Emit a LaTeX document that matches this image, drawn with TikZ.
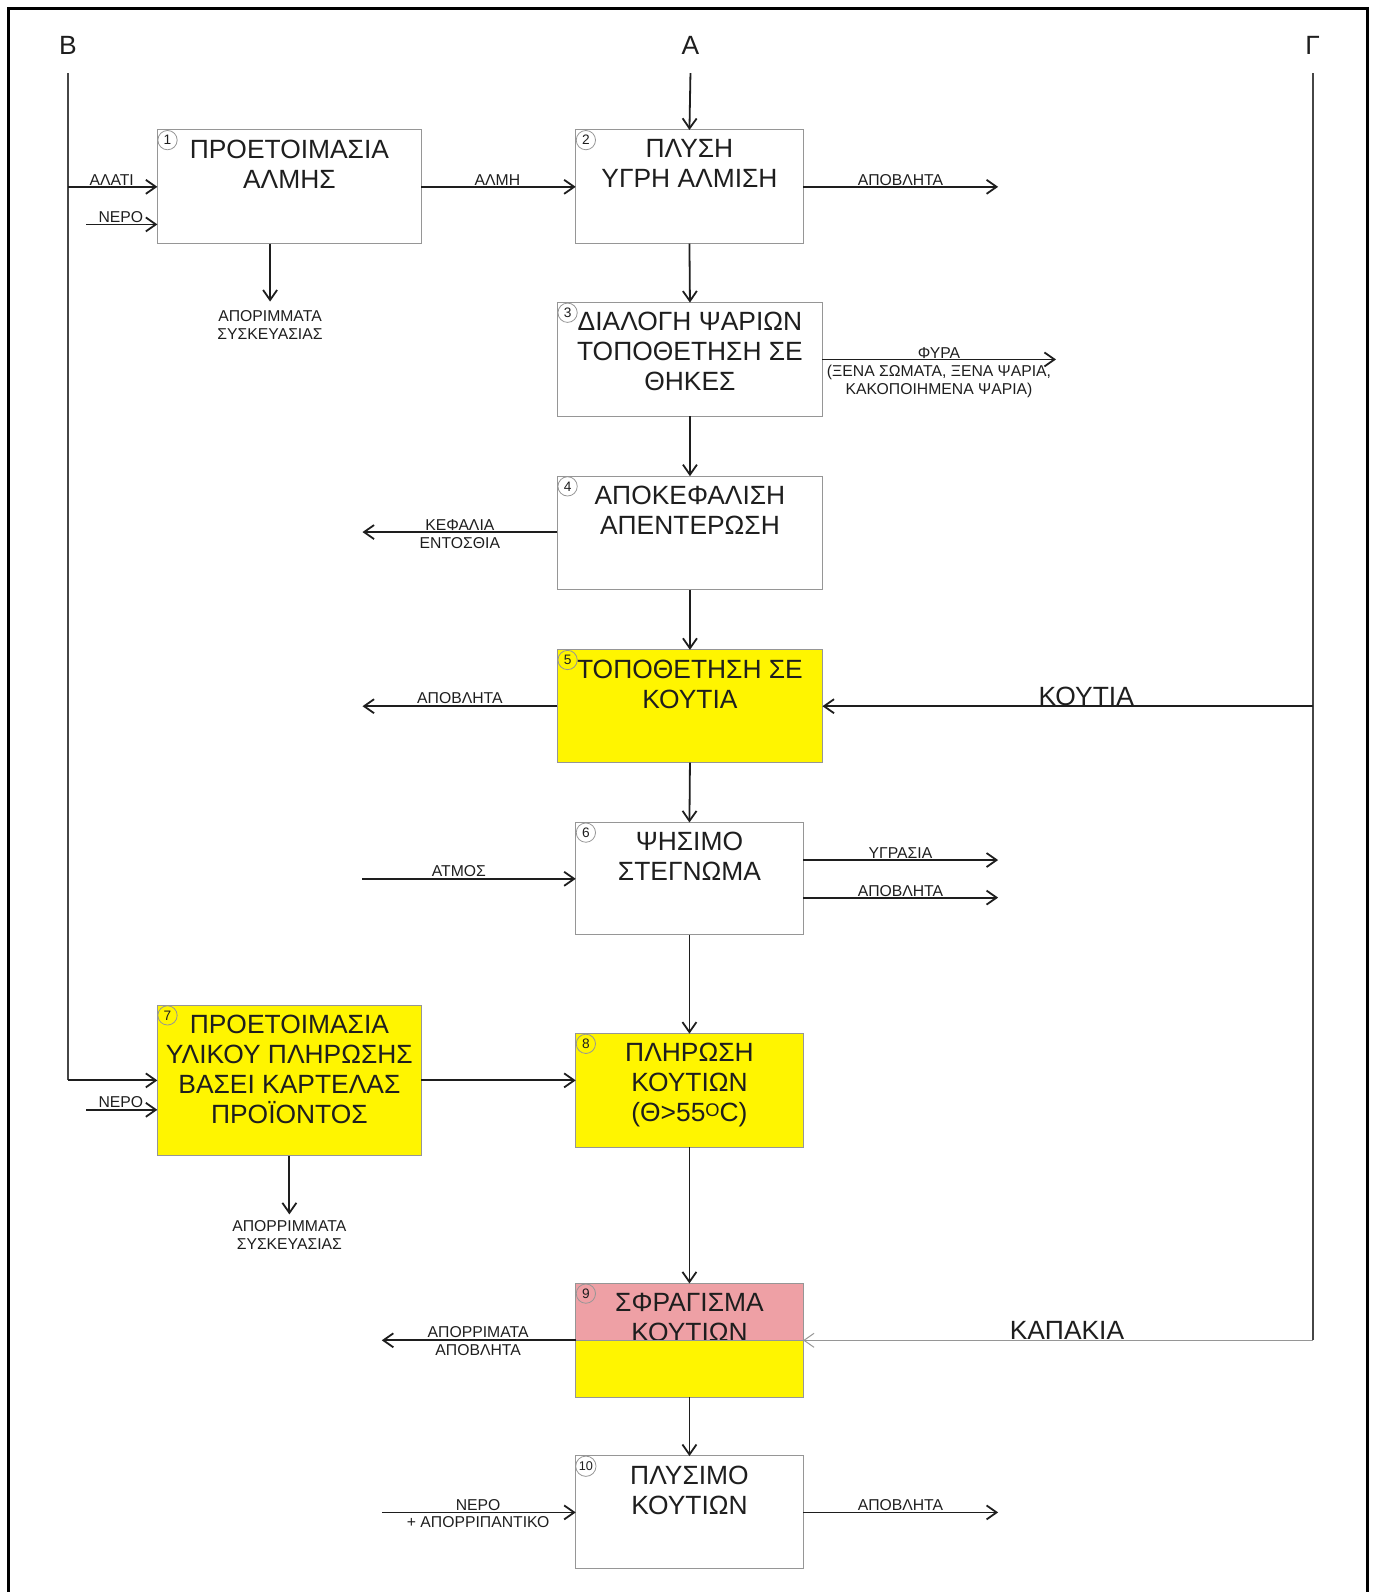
\documentclass[tikz,border=0pt]{standalone}
\usepackage{fontspec}
\setmainfont{Liberation Sans}
\usetikzlibrary{arrows.meta,calc}
\definecolor{boxgray}{RGB}{150,150,150}
\definecolor{ylw}{RGB}{255,245,0}
\definecolor{pnk}{RGB}{238,160,165}
\definecolor{ink}{RGB}{30,30,30}
\definecolor{feed}{RGB}{70,70,70}
\definecolor{lightln}{RGB}{150,150,150}
\begin{document}
\begin{tikzpicture}[x=1pt,y=-1pt,scale=1.0152,
  every node/.append style={transform shape},
  box/.style={draw=boxgray,line width=1pt,inner sep=0pt,outer sep=0pt},
  btxt/.style={font=\fontsize{26}{29.5}\selectfont,align=center,inner sep=0pt,anchor=north,text=ink},
  stxt/.style={font=\fontsize{15.5}{17.5}\selectfont,inner sep=0pt,text=ink,align=center},
  bigl/.style={font=\fontsize{26}{26}\selectfont,inner sep=0pt,text=ink},
  numc/.style={circle,draw=boxgray,line width=0.8pt,inner sep=0pt,minimum size=19pt,font=\fontsize{13.5}{13.5}\selectfont,text=ink},
  flow/.style={draw=ink,line width=1.8pt,-{Straight Barb[length=10pt,width=14pt,line width=1.8pt]}},
  feedln/.style={draw=feed,line width=1.4pt},
  lightflow/.style={draw=lightln,line width=1pt,-{Straight Barb[length=10pt,width=14pt,line width=1pt]}},
]
\useasboundingbox (0,0) rectangle (1355.4,1568.2);
% frame
\draw[line width=3pt,black] (8,1570) -- (8,8) -- (1347,8) -- (1347,1570);

% top letters
\node[bigl] (lB) at (67,45) {Β};
\node[bigl] (lA) at (680,45) {Α};
\node[bigl] (lG) at (1293,45) {Γ};
\coordinate (Btop) at (67,72);
\coordinate (Atop) at (680,72);
\coordinate (Gtop) at (1293,72);
\coordinate (Gbot) at (1293,1320);

% boxes
\node[box,minimum width=260pt,minimum height=112pt] (b1) at (285,184) {};
\node[box,minimum width=224pt,minimum height=112pt] (b2) at (679,184) {};
\node[box,minimum width=261pt,minimum height=112pt] (b3) at (679.5,354) {};
\node[box,minimum width=261pt,minimum height=112pt] (b4) at (679.5,525) {};
\node[box,fill=ylw,minimum width=261pt,minimum height=111pt] (b5) at (679.5,695.5) {};
\node[box,minimum width=224pt,minimum height=111pt] (b6) at (679,865.5) {};
\node[box,fill=ylw,minimum width=260pt,minimum height=148pt] (b7) at (285,1064) {};
\node[box,fill=ylw,minimum width=224pt,minimum height=112pt] (b8) at (679,1074) {};
\node[box,fill=pnk,minimum width=224pt,minimum height=112pt] (b9) at (679,1320) {};
\node[box,minimum width=224pt,minimum height=111pt] (b10) at (679,1489.5) {};

% box texts
\node[btxt] (t1) at ([yshift=-9.5pt]b1.north) {ΠΡΟΕΤΟΙΜΑΣΙΑ\\ΑΛΜΗΣ};
\node[btxt] (t2) at ([yshift=-9.5pt]b2.north) {ΠΛΥΣΗ\\ΥΓΡΗ ΑΛΜΙΣΗ};
\node[btxt] (t3) at ([yshift=-9.5pt]b3.north) {ΔΙΑΛΟΓΗ ΨΑΡΙΩΝ\\ΤΟΠΟΘΕΤΗΣΗ ΣΕ\\ΘΗΚΕΣ};
\node[btxt] (t4) at ([yshift=-9.5pt]b4.north) {ΑΠΟΚΕΦΑΛΙΣΗ\\ΑΠΕΝΤΕΡΩΣΗ};
\node[btxt] (t5) at ([yshift=-9.5pt]b5.north) {ΤΟΠΟΘΕΤΗΣΗ ΣΕ\\ΚΟΥΤΙΑ};
\node[btxt] (t6) at ([yshift=-9.5pt]b6.north) {ΨΗΣΙΜΟ\\ΣΤΕΓΝΩΜΑ};
\node[btxt] (t7) at ([yshift=-9.5pt]b7.north) {ΠΡΟΕΤΟΙΜΑΣΙΑ\\ΥΛΙΚΟΥ ΠΛΗΡΩΣΗΣ\\ΒΑΣΕΙ ΚΑΡΤΕΛΑΣ\\ΠΡΟΪΟΝΤΟΣ};
\node[btxt] (t8) at ([yshift=-9.5pt]b8.north) {ΠΛΗΡΩΣΗ\\ΚΟΥΤΙΩΝ\\(Θ>55\raisebox{5.5pt}{\fontsize{18}{18}\selectfont Ο}C)};
\node[btxt] (t9) at ([yshift=-9.5pt]b9.north) {ΣΦΡΑΓΙΣΜΑ\\ΚΟΥΤΙΩΝ};
\fill[ylw] (b9.west) rectangle (b9.south east);
\draw[boxgray,line width=1pt] (b9.north west) rectangle (b9.south east);
\draw[boxgray,line width=0.8pt] (b9.west) -- (b9.east);
\node[btxt] (t10) at ([yshift=-9.5pt]b10.north) {ΠΛΥΣΙΜΟ\\ΚΟΥΤΙΩΝ};

% number circles
\node[numc] (c1) at ([shift={(10pt,-10pt)}]b1.north west) {1};
\node[numc] (c2) at ([shift={(10pt,-10pt)}]b2.north west) {2};
\node[numc] (c3) at ([shift={(10pt,-10pt)}]b3.north west) {3};
\node[numc] (c4) at ([shift={(10pt,-10pt)}]b4.north west) {4};
\node[numc] (c5) at ([shift={(10pt,-10pt)}]b5.north west) {5};
\node[numc] (c6) at ([shift={(10pt,-10pt)}]b6.north west) {6};
\node[numc] (c7) at ([shift={(10pt,-10pt)}]b7.north west) {7};
\node[numc] (c8) at ([shift={(10pt,-10pt)}]b8.north west) {8};
\node[numc] (c9) at ([shift={(10pt,-10pt)}]b9.north west) {9};
\node[numc,font=\fontsize{12.5}{12.5}\selectfont,minimum size=20pt] (c10) at ([shift={(10pt,-10pt)}]b10.north west) {10};

% feed lines B and Γ
\draw[feedln] (Btop) -- (Btop |- b7.west);
\draw[flow] (Btop |- b7.west) -- (b7.west);
\draw[flow] (Btop |- b1.west) -- (b1.west);
\draw[feedln] (Gtop) -- (Gbot);
\draw[flow] (Gtop |- b5.east) -- (b5.east);
\draw[lightflow] (Gbot) -- (b9.east);
\node[bigl] (lK) at (1070,686) {ΚΟΥΤΙΑ};
\node[bigl] (lKap) at (1051,1311) {ΚΑΠΑΚΙΑ};

% main column
\draw[flow] (Atop) -- (b2.north);
\draw[flow] (b1.east) -- (b2.west);
\draw[flow] (b2.south) -- (b3.north);
\draw[flow] (b3.south) -- (b4.north);
\draw[flow] (b4.south) -- (b5.north);
\draw[flow] (b5.south) -- (b6.north);
\draw[flow] (b6.south) -- (b8.north);
\draw[flow] (b7.east) -- (b7.east -| b8.west);
\draw[flow] (b8.south) -- (b9.north);
\draw[flow] (b9.south) -- (b10.north);

% box 1 side flows
\node[stxt,anchor=base] (lAlati) at (110,183) {ΑΛΑΤΙ};
\coordinate (n1) at (85,221);
\draw[flow] (n1) -- (n1 -| b1.west);
\node[stxt,anchor=base] (lNero1) at (119,219) {ΝΕΡΟ};
\coordinate (d1) at (266,297);
\draw[flow] (b1.south -| d1) -- (d1);
\node[stxt,anchor=north] (lApor1) at (266,305.5) {ΑΠΟΡΙΜΜΑΤΑ\\ΣΥΣΚΕΥΑΣΙΑΣ};
\node[stxt,anchor=base] (lAlmi) at (490,183) {ΑΛΜΗ};

% box 2
\coordinate (o2) at (983,184);
\draw[flow] (b2.east) -- (o2);
\node[stxt,anchor=base] (lApov2) at (887,183) {ΑΠΟΒΛΗΤΑ};

% box 3
\coordinate (o3) at (1040,354);
\draw[flow] (b3.east) -- (o3);
\node[stxt,anchor=north] (lFyra) at (925,342.5) {ΦΥΡΑ\\(ΞΕΝΑ ΣΩΜΑΤΑ, ΞΕΝΑ ΨΑΡΙΑ,\\ΚΑΚΟΠΟΙΗΜΕΝΑ ΨΑΡΙΑ)};

% box 4
\coordinate (o4) at (357,524);
\draw[flow] (b4.west |- o4) -- (o4);
\node[stxt,anchor=north] (lKef) at (453,511.5) {ΚΕΦΑΛΙΑ\\ΕΝΤΟΣΘΙΑ};

% box 5
\coordinate (o5) at (357,695.5);
\draw[flow] (b5.west) -- (o5);
\node[stxt,anchor=base] (lApov5) at (453,693) {ΑΠΟΒΛΗΤΑ};

% box 6
\coordinate (i6) at (357,865.5);
\draw[flow] (i6) -- (b6.west);
\node[stxt,anchor=base] (lAtmos) at (452,863) {ΑΤΜΟΣ};
\coordinate (o6a) at (983,847);
\coordinate (o6b) at (983,884);
\draw[flow] (b6.east |- o6a) -- (o6a);
\draw[flow] (b6.east |- o6b) -- (o6b);
\node[stxt,anchor=base] (lYgr) at (887,846) {ΥΓΡΑΣΙΑ};
\node[stxt,anchor=base] (lApov6) at (887,883) {ΑΠΟΒΛΗΤΑ};

% box 7
\coordinate (n7) at (85,1093);
\draw[flow] (n7) -- (n7 -| b7.west);
\node[stxt,anchor=base] (lNero7) at (119,1091) {ΝΕΡΟ};
\coordinate (d7) at (285,1196);
\draw[flow] (b7.south) -- (d7);
\node[stxt,anchor=north] (lApor7) at (285,1202.5) {ΑΠΟΡΡΙΜΜΑΤΑ\\ΣΥΣΚΕΥΑΣΙΑΣ};

% box 9
\coordinate (o9) at (376,1320);
\draw[flow] (b9.west) -- (o9);
\node[stxt,anchor=north] (lApor9) at (471,1306.5) {ΑΠΟΡΡΙΜΑΤΑ\\ΑΠΟΒΛΗΤΑ};

% box 10
\coordinate (i10) at (376,1489.5);
\draw[flow] (i10) -- (b10.west);
\node[stxt,anchor=north] (lNero10) at (471,1476.5) {ΝΕΡΟ\\+ ΑΠΟΡΡΙΠΑΝΤΙΚΟ};
\coordinate (o10) at (983,1489.5);
\draw[flow] (b10.east) -- (o10);
\node[stxt,anchor=base] (lApov10) at (887,1488) {ΑΠΟΒΛΗΤΑ};
\end{tikzpicture}
\end{document}
